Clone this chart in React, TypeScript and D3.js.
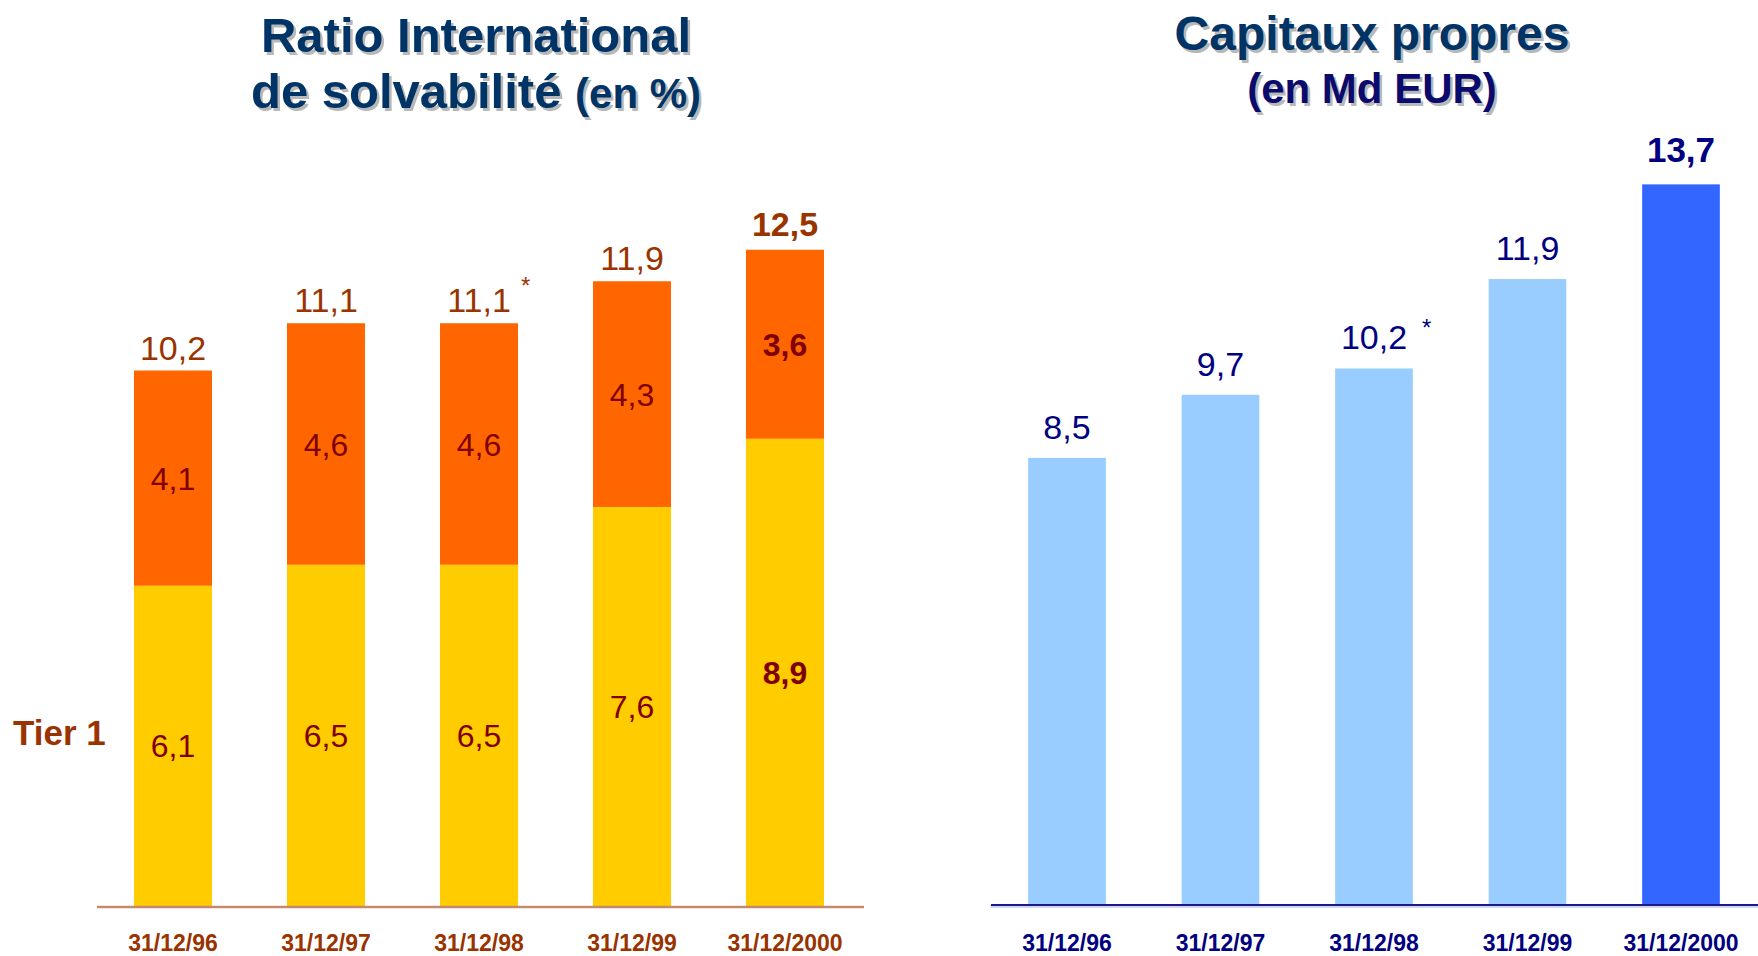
import React from "react";
import * as d3 from "d3";

const dates = ["31/12/96", "31/12/97", "31/12/98", "31/12/99", "31/12/2000"];
const tier1 = [6.1, 6.5, 6.5, 7.6, 8.9];
const tier2 = [4.1, 4.6, 4.6, 4.3, 3.6];
const ratioTotals = ["10,2", "11,1", "11,1", "11,9", "12,5"];
const ratioNotes = ["", "", "*", "", ""];
const equity = [8.5, 9.7, 10.2, 11.9, 13.7];
const equityNotes = ["", "", "*", "", ""];

const W = 1758;
const H = 956;
const FONT = "'Liberation Sans', Arial, Helvetica, sans-serif";

const fmt = (v: number) => v.toFixed(1).replace(".", ",");

function ShadowText(props: { x: number; y: number; size: number; color: string; children: React.ReactNode; anchor?: string }) {
  const { x, y, size, color, children, anchor = "middle" } = props;
  return (
    <g fontFamily={FONT} fontWeight="bold" fontSize={size} textAnchor={anchor}>
      <text x={x + 2.5} y={y + 2.5} fill="#b8b8b8">{children}</text>
      <text x={x} y={y} fill={color}>{children}</text>
    </g>
  );
}

export default function App() {
  const xL = d3.scaleBand<string>().domain(dates).range([96.5, 861.5]).paddingInner(0.49).paddingOuter(0.245);
  const yL = d3.scaleLinear().domain([0, 14]).range([906, 906 - 14 * 52.5]);
  const xR = d3.scaleBand<string>().domain(dates).range([990.25, 1757.75]).paddingInner(0.494).paddingOuter(0.247);
  const yR = d3.scaleLinear().domain([0, 14]).range([905, 905 - 14 * 52.6]);

  const last = dates.length - 1;

  return (
    <svg width={W} height={H} style={{ display: "block", position: "absolute", left: 0, top: 0 }}>
      <rect x={0} y={0} width={W} height={H} fill="#ffffff" />

      {/* Left title */}
      <ShadowText x={476} y={52} size={49} color="#003366">Ratio International</ShadowText>
      <g fontFamily={FONT} fontWeight="bold" textAnchor="middle">
        <text x={478.5} y={110.5} fill="#b8b8b8">
          <tspan fontSize={49}>de solvabilité </tspan>
          <tspan fontSize={42}>(en %)</tspan>
        </text>
        <text x={476} y={108} fill="#003366">
          <tspan fontSize={49}>de solvabilité </tspan>
          <tspan fontSize={42}>(en %)</tspan>
        </text>
      </g>

      {/* Right title */}
      <ShadowText x={1372} y={50} size={48} color="#003366">Capitaux propres</ShadowText>
      <ShadowText x={1372} y={103} size={42} color="#0b0b6e">(en Md EUR)</ShadowText>

      {/* Left chart bars */}
      {dates.map((d, i) => {
        const x = xL(d)!;
        const bw = xL.bandwidth();
        const y0 = yL(0);
        const y1 = yL(tier1[i]);
        const y2 = yL(tier1[i] + tier2[i]);
        const bold = i === last;
        const cx = x + bw / 2;
        return (
          <g key={d}>
            <rect x={x} y={y1} width={bw} height={y0 - y1} fill="#FFCC00" />
            <rect x={x} y={y2} width={bw} height={y1 - y2} fill="#FF6600" />
            <text x={cx} y={(y0 + y1) / 2 + 11.5} textAnchor="middle" fontFamily={FONT} fontSize={32}
              fontWeight={bold ? "bold" : "normal"} fill="#800000">{fmt(tier1[i])}</text>
            <text x={cx} y={(y1 + y2) / 2 + 11.5} textAnchor="middle" fontFamily={FONT} fontSize={32}
              fontWeight={bold ? "bold" : "normal"} fill="#800000">{fmt(tier2[i])}</text>
            <text x={cx} y={y2 - (bold ? 14 : 11)} textAnchor="middle" fontFamily={FONT} fontSize={34}
              fontWeight={bold ? "bold" : "normal"} fill="#993300">{ratioTotals[i]}</text>
            {ratioNotes[i] && (
              <text x={cx + 42} y={y2 - 29} fontFamily={FONT} fontSize={24} fill="#993300">{ratioNotes[i]}</text>
            )}
            <text x={cx} y={951} textAnchor="middle" fontFamily={FONT} fontSize={23} fontWeight="bold" fill="#993300">{d}</text>
          </g>
        );
      })}
      <line x1={97} x2={864} y1={907} y2={907} stroke="#c58a6c" strokeWidth={2.5} />
      <text x={13} y={745} fontFamily={FONT} fontSize={35} fontWeight="bold" fill="#993300">Tier 1</text>

      {/* Right chart bars */}
      {dates.map((d, i) => {
        const x = xR(d)!;
        const bw = xR.bandwidth();
        const y0 = yR(0);
        const y1 = yR(equity[i]);
        const bold = i === last;
        const cx = x + bw / 2;
        return (
          <g key={"r" + d}>
            <rect x={x} y={y1} width={bw} height={y0 - y1} fill={bold ? "#3366FF" : "#99CCFF"} />
            <text x={cx} y={y1 - (bold ? 22 : 19)} textAnchor="middle" fontFamily={FONT} fontSize={bold ? 35 : 34}
              fontWeight={bold ? "bold" : "normal"} fill="#000080">{fmt(equity[i])}</text>
            {equityNotes[i] && (
              <text x={cx + 48} y={y1 - 32} fontFamily={FONT} fontSize={24} fill="#000080">{equityNotes[i]}</text>
            )}
            <text x={cx} y={951} textAnchor="middle" fontFamily={FONT} fontSize={23} fontWeight="bold" fill="#000080">{d}</text>
          </g>
        );
      })}
      <line x1={991} x2={1758} y1={907} y2={907} stroke="#d4d4ee" strokeWidth={2} />
      <line x1={991} x2={1758} y1={905} y2={905} stroke="#1a1a8a" strokeWidth={2} />
    </svg>
  );
}
